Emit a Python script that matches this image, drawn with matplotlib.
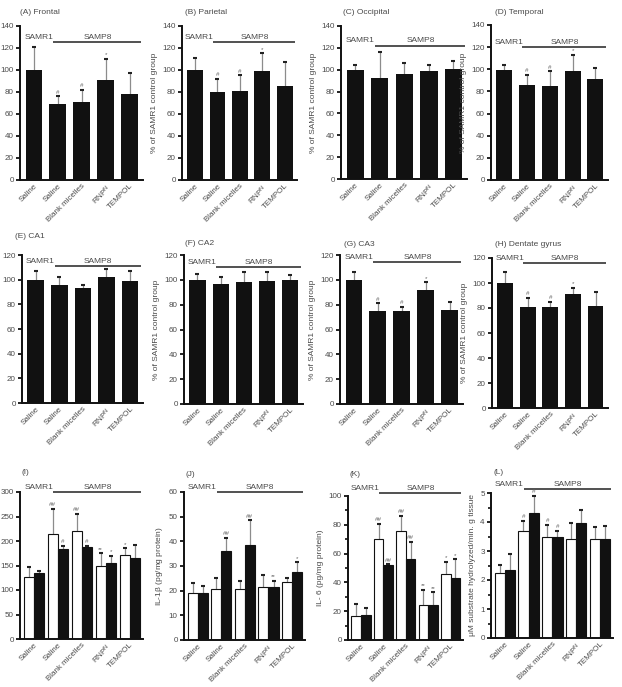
import matplotlib
matplotlib.use('Agg')
import matplotlib.pyplot as plt
import numpy as np
from matplotlib.ticker import MultipleLocator

plt.rcParams['font.family'] = ['Liberation Sans', 'DejaVu Sans']
plt.rcParams['mathtext.fontset'] = 'custom'
plt.rcParams['mathtext.rm'] = 'Liberation Sans'
plt.rcParams['mathtext.it'] = 'Liberation Sans:italic'

# ---------------- data ----------------
groups = ['Saline', 'Saline', 'Blank micelles', r'RNP$^{\mathregular{N}}$', 'TEMPOL']

frontal_mean = [100, 69, 71, 91, 78]
frontal_err = [21, 7, 11, 19, 19]
frontal_sig = ['', '#', '#', '*', '']

parietal_mean = [100, 80, 81, 99, 85]
parietal_err = [11, 12, 14, 16, 22]
parietal_sig = ['', '#', '#', '*', '']

occipital_mean = [99.5, 92.5, 96.5, 99, 100.5]
occipital_err = [4.5, 23.5, 9.5, 5, 7.5]
occipital_sig = ['', '', '', '', '']

temporal_mean = [99, 86, 85, 98, 91]
temporal_err = [5, 9, 13, 15, 10]
temporal_sig = ['', '#', '#', '*', '']

ca1_mean = [100, 96, 93, 102, 99]
ca1_err = [7, 6, 3, 7, 8]
ca1_sig = ['', '', '', '', '']

ca2_mean = [100, 96.5, 98.5, 99, 99.5]
ca2_err = [4.5, 6, 7.5, 7, 4.5]
ca2_sig = ['', '', '', '', '']

ca3_mean = [100, 75, 75, 92, 76]
ca3_err = [6, 6, 3, 6, 6]
ca3_sig = ['', '#', '#', '*', '']

dg_mean = [100, 81, 80.5, 91.5, 82]
dg_err = [9, 7, 4.5, 4.5, 11]
dg_sig = ['', '#', '#', '*', '']

# panel I (two series: white / black)
i_white_mean = [126, 215, 221, 150, 172]
i_white_err = [21, 50, 35, 25, 13]
i_white_sig = ['', '##', '##', '**', '*']
i_black_mean = [134, 183, 187, 155, 165]
i_black_err = [5, 7, 3, 15, 26]
i_black_sig = ['', '#', '#', '*', '']

# panel J  IL-1beta
j_white_mean = [19, 20.5, 20.5, 21.5, 23.5]
j_white_err = [4, 4.5, 3.5, 5, 1.5]
j_white_sig = ['', '', '', '', '']
j_black_mean = [19, 36, 38.5, 21.5, 27.5]
j_black_err = [3, 5.5, 10, 2.5, 4]
j_black_sig = ['', '##', '##', '**', '*']

# panel K  IL-6
k_white_mean = [17, 70, 75.5, 24.5, 45.5]
k_white_err = [8, 10.5, 10.5, 10.5, 9]
k_white_sig = ['', '##', '##', '**', '*']
k_black_mean = [17.5, 52, 56, 24.5, 43]
k_black_err = [4.5, 0.5, 12, 8.5, 13]
k_black_sig = ['', '##', '##', '**', '*']

# panel L
l_white_mean = [2.25, 3.68, 3.5, 3.43, 3.4]
l_white_err = [0.27, 0.37, 0.4, 0.52, 0.42]
l_white_sig = ['', '#', '#', '', '']
l_black_mean = [2.33, 4.3, 3.5, 3.98, 3.43]
l_black_err = [0.57, 0.6, 0.2, 0.44, 0.42]
l_black_sig = ['', '#', '#', '', '']

pct_label = '% of SAMR1 control group'

# ---------------- figure ----------------
W, H = 622, 687
fig = plt.figure(figsize=(W / 100, H / 100), dpi=100)

TXT = '#4a4a4a'
INK = '#111111'


def rect(l, r, t, b):
    return [l / W, 1 - b / H, (r - l) / W, (b - t) / H]


def style(ax, ymax, step, minor=None):
    for s in ['top', 'right']:
        ax.spines[s].set_visible(False)
    for s in ['left', 'bottom']:
        ax.spines[s].set_linewidth(1.4)
        ax.spines[s].set_color(INK)
    ax.set_xlim(-0.58, 4.55)
    ax.set_ylim(0, ymax)
    ax.set_yticks(np.arange(0, ymax + step * 0.01, step))
    if minor:
        ax.yaxis.set_minor_locator(MultipleLocator(minor))
        ax.tick_params(axis='y', which='minor', length=2.5, width=1.2, color=INK)
    ax.tick_params(axis='y', length=3, width=1.3, color=INK, labelsize=5.8,
                   labelcolor=TXT, pad=1.5)
    ax.tick_params(axis='x', length=0, labelsize=5.8, labelcolor=TXT, pad=2)
    ax.set_xticks(np.arange(len(groups)))
    ax.set_xticklabels(groups, rotation=45, ha='right', rotation_mode='anchor')


def groups_bar(ax, yfrac, ymax):
    yl = yfrac * ymax
    ax.plot([0.8, 4.45], [yl, yl], color='#222222', lw=1.1, clip_on=False,
            solid_capstyle='butt')
    ax.annotate('SAMR1', (0.2, yl), xytext=(0, 0.8), textcoords='offset points',
                ha='center', va='bottom', fontsize=6, color=TXT, annotation_clip=False)
    ax.annotate('SAMP8', (2.65, yl), xytext=(0, 0.8), textcoords='offset points',
                ha='center', va='bottom', fontsize=6, color=TXT, annotation_clip=False)


def err_and_sig(ax, x, means, errs, sigs):
    means = np.asarray(means, float)
    tops = means + np.asarray(errs, float)
    ax.vlines(x, means, tops, color='#8c8c8c', lw=0.9, zorder=1)
    ax.plot(x, tops, ls='none', marker='_', ms=3.2, mew=1.5, color='#222222', zorder=3)
    for xi, ti, s in zip(x, tops, sigs):
        if s:
            ax.annotate(s, (xi, ti), xytext=(0, 1.2), textcoords='offset points',
                        ha='center', va='bottom', fontsize=4.5, color='#666666')


def single(box, title, title_xy, means, errs, sigs, ymax, step, yfrac, ylabel=True):
    ax = fig.add_axes(rect(*box))
    x = np.arange(len(groups))
    ax.bar(x, means, width=0.7, color=INK, zorder=2)
    err_and_sig(ax, x, means, errs, sigs)
    style(ax, ymax, step)
    groups_bar(ax, yfrac, ymax)
    if ylabel:
        ax.set_ylabel(pct_label, fontsize=6, color=TXT, labelpad=3)
    fig.text(title_xy[0] / W, 1 - title_xy[1] / H, title, fontsize=6, color=TXT,
             ha='left', va='center')
    return ax


def paired(box, title, title_xy, wm, we, ws, bm, be, bs, ymax, step, yfrac,
           ylabel=None, minor=None):
    ax = fig.add_axes(rect(*box))
    x = np.arange(len(groups))
    w = 0.43
    ax.bar(x - w / 2, wm, width=w, color='white', edgecolor=INK, lw=0.8, zorder=2)
    ax.bar(x + w / 2, bm, width=w, color=INK, edgecolor=INK, lw=0.8, zorder=2)
    err_and_sig(ax, x - w / 2, wm, we, ws)
    err_and_sig(ax, x + w / 2, bm, be, bs)
    style(ax, ymax, step, minor)
    groups_bar(ax, yfrac, ymax)
    if ylabel:
        ax.set_ylabel(ylabel, fontsize=6, color=TXT, labelpad=3)
    fig.text(title_xy[0] / W, 1 - title_xy[1] / H, title, fontsize=6, color=TXT,
             ha='left', va='center')
    return ax


# row 1
single((20, 143, 26, 180), '(A) Frontal', (20, 13), frontal_mean, frontal_err, frontal_sig,
       140, 20, 0.895, ylabel=False)
single((182, 297, 26, 180), '(B) Parietal', (185, 13), parietal_mean, parietal_err,
       parietal_sig, 140, 20, 0.895)
single((341, 467, 26, 179), '(C) Occipital', (343, 13), occipital_mean, occipital_err,
       occipital_sig, 140, 20, 0.872)
single((491, 608, 25, 180), '(D) Temporal', (495, 13), temporal_mean, temporal_err,
       temporal_sig, 140, 20, 0.86)

# row 2
single((22, 143, 255, 403), '(E) CA1', (15, 237), ca1_mean, ca1_err, ca1_sig,
       120, 20, 0.925, ylabel=False)
single((184, 303, 255, 404), '(F) CA2', (185, 243), ca2_mean, ca2_err, ca2_sig,
       120, 20, 0.92)
single((340, 463, 255, 404), '(G) CA3', (344, 245), ca3_mean, ca3_err, ca3_sig,
       120, 20, 0.953)
single((492, 608, 258, 408), '(H) Dentate gyrus', (495, 245), dg_mean, dg_err, dg_sig,
       120, 20, 0.967)

# row 3
paired((20, 143, 492, 639), '(I)', (22, 473), i_white_mean, i_white_err, i_white_sig,
       i_black_mean, i_black_err, i_black_sig, 300, 50, 1.0)
paired((184, 305, 492, 640), '(J)', (185, 475), j_white_mean, j_white_err, j_white_sig,
       j_black_mean, j_black_err, j_black_sig, 60, 10, 1.0,
       ylabel=r'IL-1$\mathregular{\beta}$ (pg/mg protein)')
paired((348, 463, 496, 640), '(K)', (350, 475), k_white_mean, k_white_err, k_white_sig,
       k_black_mean, k_black_err, k_black_sig, 100, 20, 1.02,
       ylabel='IL- 6 (pg/mg protein)', minor=10)
paired((491, 613, 493, 638), '(L)', (493, 472), l_white_mean, l_white_err, l_white_sig,
       l_black_mean, l_black_err, l_black_sig, 5, 1, 1.028,
       ylabel='\u03bcM substrate hydrolyzed/min. g tissue', minor=0.5)

fig.savefig('out.png', dpi=100)
